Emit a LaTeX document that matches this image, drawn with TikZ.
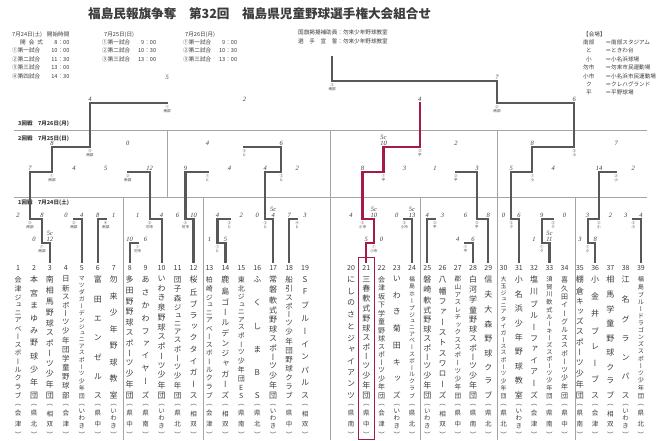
\documentclass[tikz,border=0pt]{standalone}
\usepackage{fontspec}
\setmainfont{Noto Sans CJK JP}
\newfontfamily\vjp[RawFeature=+vert]{Noto Sans CJK JP}
\newfontfamily\hand{Liberation Serif}
\usetikzlibrary{calc}
\pgfdeclarelayer{bg}
\pgfsetlayers{bg,main}
\definecolor{ink}{RGB}{60,60,60}
\definecolor{thkc}{RGB}{88,88,88}
\definecolor{thnc}{RGB}{160,160,160}
\definecolor{divc}{RGB}{165,165,165}
\definecolor{myred}{RGB}{165,25,75}

\makeatletter
\newcommand\vstack[2]{\vbox to #1{\offinterlineskip\vs@loop#2\relax}}
\def\vs@loop#1{\hbox to 1.1em{\hss#1\hss}\futurelet\vs@next\vs@check}
\def\vs@check{\ifx\vs@next\relax\expandafter\@gobble\else\vfill\expandafter\vs@loop\fi}
\makeatother

\tikzset{
 thn/.style={draw=thnc, line width=0.7pt},
 thk/.style={draw=thkc, line width=2.2pt, line cap=rect, line join=miter},
 rdp/.style={draw=myred, line width=2.2pt, line cap=rect, line join=miter},
 div/.style={draw=divc, line width=0.6pt},
 sc/.style={font=\hand\itshape\fontsize{6.5}{6}\selectfont, text=ink, inner sep=0.3pt, align=center},
 ml/.style={font=\fontsize{3.6}{4.2}\selectfont, text=ink, inner sep=0pt, align=center, anchor=north},
 num/.style={font=\fontsize{7}{7}\selectfont, text=ink, inner sep=0pt},
 nm/.style={anchor=north, inner sep=0pt, text=ink},
 rg/.style={anchor=north, inner sep=0pt, text=ink, font=\vjp\fontsize{6.5}{6.5}\selectfont},
 hd/.style={font=\fontsize{5.6}{8.4}\selectfont, text=ink, inner sep=0pt, anchor=north west, align=left},
 band/.style={font=\bfseries\fontsize{5.5}{6}\selectfont, text=ink, inner sep=0pt, anchor=west},
}

% #1 name, #2 x, #3 y, #4 winner input, #5 loser input, #6 loser vertical style,
% #7 winner score, #8 loser score, #9 match label
\newcommand\mt[9]{%
 \coordinate (#1) at (#2,#3);
 \begin{pgfonlayer}{bg}
 \draw[#6] (#5) -- (#5 |- #1);
 \draw[thn] (#5 |- #1) -- (#1);
 \end{pgfonlayer}
 \draw[thk] (#4) -- (#4 |- #1) -- (#1);
 \node[sc, above=1pt] (#1w) at (#4 |- #1) {#7};
 \node[sc, above=1pt] (#1l) at (#5 |- #1) {#8};
 \node[ml] (#1m) at ([yshift=-2pt]#1) {#9};
}

% #1 index, #2 x, #3 font size, #4 name, #5 region
\newcommand\team[5]{%
 \coordinate (t#1) at (#2,262);
 \node[num] (n#1) at (#2,268) {#1};
 \node[nm, font=\vjp\fontsize{#3}{#3}\selectfont] (nm#1) at (#2,276) {\vstack{122pt}{#4}};
 \node[rg] (r#1) at (#2,404) {\vstack{33pt}{#5}};
}

\begin{document}
\begin{tikzpicture}[x=1pt,y=-1pt]
\useasboundingbox (0,0) rectangle (665,440);
\fill[white] (0,0) rectangle (665,440);

% ---------- header ----------
\node[font=\bfseries\fontsize{12.6}{13}\selectfont, text=ink, anchor=west, inner sep=0] (title) at (88,14)
 {福島民報旗争奪　第32回　福島県児童野球選手権大会組合せ};

\node[hd] (h1) at (12,30) {\begin{tabular}{@{}l@{\hspace{4pt}}r@{}}
7月24日(土)&開始時間\\
\hspace{8pt}開\hspace{3pt}会\hspace{3pt}式&8：00\\
①第一試合&10：00\\
②第二試合&11：30\\
③第三試合&13：00\\
④第四試合&14：30\end{tabular}};
\node[hd] (h2) at (102,30) {\begin{tabular}{@{}l@{\hspace{4pt}}r@{}}
\hspace{2pt}7月25日(日)&\\
①第一試合&9：00\\
②第二試合&10：30\\
③第三試合&13：00\end{tabular}};
\node[hd] (h3) at (183,30) {\begin{tabular}{@{}l@{\hspace{4pt}}r@{}}
\hspace{2pt}7月26日(月)&\\
①第一試合&9：00\\
②第二試合&10：30\\
③第三試合&13：00\end{tabular}};
\node[hd] (h4) at (298,30) {国旗掲揚補助員：勿来少年野球教室\\
選\hspace{5.6pt}手\hspace{5.6pt}宣\hspace{5.6pt}誓：勿来少年野球教室};
\node[hd] (h5) at (583,30) {\begin{tabular}{@{}l@{}l@{}}
【会場】&\\
南部&＝南部スタジアム\\
\hspace{3pt}と&＝ときわ台\\
\hspace{3pt}小&＝小名浜球場\\
勿市&＝勿来市民運動場\\
小市&＝小名浜市民運動場\\
\hspace{3pt}ク&＝クレハグランド\\
\hspace{3pt}平&＝平野球場\end{tabular}};

% ---------- bands ----------
\coordinate (bl1) at (14,130); \coordinate (br1) at (647,130);
\coordinate (bl2) at (14,197); \coordinate (br2) at (647,197);
\draw[div] (bl1) -- (br1);
\draw[div] (bl2) -- (br2);
\node[band] (b3) at (18,124) {3回戦　7月26日(月)};
\node[band] (b2) at (18,139) {2回戦　7月25日(日)};
\node[band] (b1) at (18,203) {1回戦　7月24日(土)};
\foreach \x in {167,330,497} {\draw[div] (\x,130) -- (\x,197);}
\foreach \x in {123,203,330,420,497,575} {\draw[div] (\x,197) -- (\x,440);}

% ---------- teams ----------
\team{1}{18.0}{7.0}{会津ジュニアベースボールクラブ}{（会津）}
\team{2}{34.0}{8.0}{本宮まゆみ野球少年団}{（県北）}
\team{3}{49.9}{8.0}{南相馬野球スポーツ少年団}{（相双）}
\team{4}{65.9}{7.5}{日新スポーツ少年団学童野球部}{（会津）}
\team{5}{81.8}{5.9}{マツダガーデンジュニアスポーツ少年団}{（いわき）}
\team{6}{97.8}{8.0}{富田エンゼルス}{（県中）}
\team{7}{113.7}{8.0}{勿来少年野球教室}{（いわき）}
\team{8}{129.7}{8.0}{多田野野球スポーツ少年団}{（県中）}
\team{9}{145.6}{8.0}{あさかわファイヤーズ}{（県南）}
\team{10}{161.6}{8.0}{いわき泉野球スポーツ少年団}{（いわき）}
\team{11}{177.5}{7.5}{団子森ジュニアスポーツ少年団}{（県北）}
\team{12}{193.5}{8.0}{桜丘ブラックタイガース}{（相双）}
\team{13}{209.4}{7.0}{柏崎ジュニアベースボールクラブ}{（会津）}
\team{14}{225.4}{8.0}{鹿島ゴールデンジャガーズ}{（相双）}
\team{15}{241.3}{7.0}{東北ジュニアスポーツ少年団ES}{（県南）}
\team{16}{257.3}{8.0}{ふくしまBS}{（県北）}
\team{17}{273.2}{8.0}{常磐軟式野球スポーツ少年団}{（いわき）}
\team{18}{289.2}{7.5}{船引スポーツ少年団野球クラブ}{（県中）}
\team{19}{305.1}{8.0}{SFブルーインパルス}{（相双）}
\team{20}{351.0}{8.0}{にしのさとジャイアンツ}{（県南）}
\team{21}{366.3}{8.0}{三春軟式野球スポーツ少年団}{（県中）}
\team{22}{381.5}{7.0}{会津坂下学童野球スポーツ少年団}{（会津）}
\team{23}{396.8}{8.0}{いわき菊田キッズ}{（いわき）}
\team{24}{412.0}{5.9}{福島ホープジュニアベースボールクラブ}{（県北）}
\team{25}{427.3}{8.0}{磐崎軟式野球スポーツ少年団}{（いわき）}
\team{26}{442.6}{8.0}{八幡ファーストスワローズ}{（相双）}
\team{27}{457.8}{6.6}{郡山アスレチックススポーツ少年団}{（県中）}
\team{28}{473.1}{8.0}{白河学童野球スポーツ少年団}{（県南）}
\team{29}{488.3}{8.0}{信夫大森野球クラブ}{（県北）}
\team{30}{503.6}{5.9}{大玉ジュニアタイガーススポーツ少年団}{（県北）}
\team{31}{518.9}{8.0}{小名浜少年野球教室}{（いわき）}
\team{32}{534.1}{8.0}{塩川ブルーファイアーズ}{（会津）}
\team{33}{549.4}{6.2}{須賀川軟式ルーキーズスポーツ少年団}{（県南）}
\team{34}{564.6}{7.0}{喜久田イーグルススポーツ少年団}{（県中）}
\team{35}{579.9}{8.0}{棚倉キッズスポーツ少年団}{（県南）}
\team{36}{595.2}{8.0}{小金井ブレーブス}{（会津）}
\team{37}{610.4}{8.0}{相馬学童野球クラブ}{（相双）}
\team{38}{625.7}{8.0}{江名グランパス}{（いわき）}
\team{39}{640.9}{6.2}{福島ブルードラゴンズスポーツ少年団}{（県北）}

% ---------- bracket ----------
% preliminary games
\mt{P1}{42.0}{243}{t3}{t2}{thn}{5c\\12}{0}{①\\南部}
\mt{P2}{137.7}{243}{t8}{t9}{thn}{10}{6}{①\\勿市}
\mt{P3}{217.4}{243}{t14}{t13}{thn}{5}{1}{①\\と}
\mt{P4}{373.9}{243}{t21}{t22}{thn}{5}{0}{①\\小市}
\mt{P5}{465.5}{243}{t28}{t27}{thn}{6}{4}{①\\平}
\mt{P6}{541.8}{243}{t33}{t32}{thn}{5c\\11}{1}{①\\ク}
\mt{P7}{587.6}{243}{t36}{t35}{thn}{8}{3}{①\\小}
% first round
\mt{A1}{30.0}{219}{P1}{t1}{thn}{8}{2}{③\\南部}
\mt{A2}{73.9}{219}{t5}{t4}{thn}{4}{0}{②\\南部}
\mt{A3}{105.8}{219}{t6}{t7}{thn}{8}{1}{④\\南部}
\mt{B1}{149.7}{219}{t10}{P2}{thk}{4}{1}{②\\勿市}
\mt{B2}{185.5}{219}{t12}{t11}{thn}{10}{6}{③\\勿市}
\mt{C1}{229.4}{219}{P3}{t15}{thn}{4}{2}{②\\と}
\mt{C2}{265.3}{219}{t17}{t16}{thn}{5c\\4}{0}{③\\と}
\mt{C3}{297.2}{219}{t18}{t19}{thn}{7}{3}{④\\と}
\mt{D1}{362.5}{219}{P4}{t20}{thn}{5c\\10}{4}{③\\小市}
\mt{D2}{404.4}{219}{t24}{t23}{thn}{5c\\13}{0}{②\\小市}
\mt{E1}{435.0}{219}{t25}{t26}{thn}{4}{3}{②\\平}
\mt{E2}{476.9}{219}{t29}{P5}{thk}{8}{6}{③\\平}
\mt{F1}{511.3}{219}{t31}{t30}{thn}{6}{0}{②\\ク}
\mt{F2}{553.2}{219}{P6}{t34}{thn}{9}{0}{③\\ク}
\mt{G1}{599.0}{219}{P7}{t37}{thn}{3}{2}{②\\小}
\mt{G2}{633.3}{219}{t39}{t38}{thn}{4}{3}{③\\小}
% second round
\mt{R1}{52.0}{172}{A1}{A2}{thk}{7}{4}{①\\南部}
\mt{R2}{127.8}{172}{B1}{A3}{thk}{12}{5}{②\\南部}
\mt{R3}{207.5}{172}{B2}{C1}{thk}{9}{4}{①\\と}
\mt{R4}{281.3}{172}{C2}{C3}{thk}{4}{2}{②\\と}
\mt{R5}{383.5}{172}{D1}{D2}{thk}{8}{3}{①\\平}
\mt{R6}{456.0}{172}{E2}{E1}{thk}{3}{1}{②\\平}
\mt{R7}{532.3}{172}{F1}{F2}{thk}{5}{4}{①\\小}
\mt{R8}{616.2}{172}{G1}{G2}{thk}{14}{2}{②\\小}
% quarter finals
\mt{Q1}{89.9}{147}{R1}{R2}{thk}{8}{0}{③\\南部}
\mt{Q2}{244.4}{147}{R4}{R3}{thk}{6}{4}{③\\と}
\mt{Q3}{419.8}{147}{R5}{R6}{thk}{5c\\10}{2}{③\\平}
\mt{Q4}{574.3}{147}{R7}{R8}{thk}{8}{7}{③\\小}
% semi finals
\mt{S1}{167.2}{103}{Q1}{Q2}{thk}{4}{2}{①\\南部}
\mt{S2}{497.0}{103}{Q4}{Q3}{thk}{6}{4}{②\\南部}
% final
\mt{FN}{332.1}{81}{S2}{S1}{thk}{7}{5}{③\\南部}
\coordinate (champ) at (332.1,57);
\draw[thk] (FN) -- (champ);

% ---------- highlighted path of team 21 ----------
\draw[rdp] (t21) -- (t21 |- P4) -- (P4) -- (P4 |- D1) -- (D1) -- (D1 |- R5) -- (R5)
 -- (R5 |- Q3) -- (Q3) -- (Q3 |- S2);
\coordinate (rb1) at (358.2,257);
\coordinate (rb2) at (374.4,439);
\draw[myred, line width=1pt] (rb1) rectangle (rb2);
\end{tikzpicture}
\end{document}
